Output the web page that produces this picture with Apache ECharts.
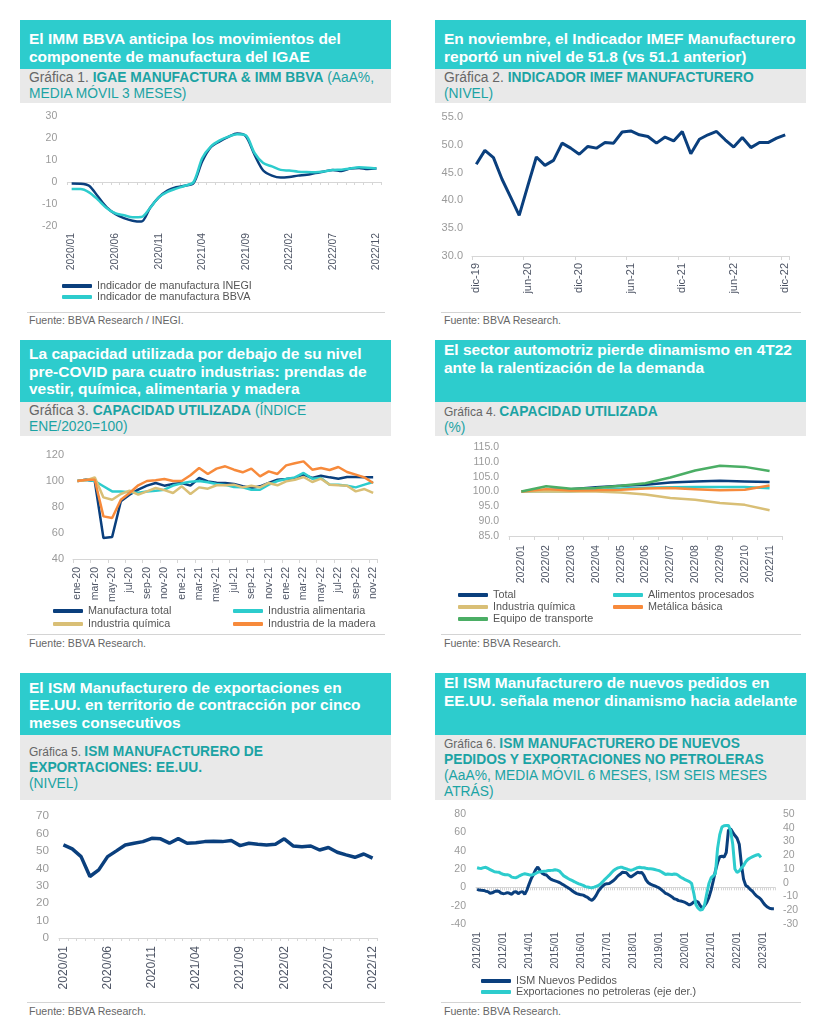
<!DOCTYPE html>
<html><head><meta charset="utf-8">
<script src="https://cdn.jsdelivr.net/npm/echarts@6/dist/echarts.min.js"></script>
<style>
html,body{margin:0;padding:0;background:#fff;}
body{width:838px;height:1024px;position:relative;overflow:hidden;font-family:"Liberation Sans",Arial,sans-serif;}
#chart{position:absolute;left:0;top:0;width:838px;height:1024px;}
.box{position:absolute;}
.hb{background:#2dcccd;}
.gb{background:#e9e9e9;}
.ht{position:absolute;color:#fff;font-weight:bold;font-size:15.5px;line-height:17.7px;white-space:nowrap;}
.st{position:absolute;color:#1ba3a4;font-size:13.8px;line-height:16px;white-space:nowrap;}
.st .g{color:#666;}
.st .gs{color:#666;font-size:12px;}
.sep{position:absolute;height:0;border-top:1.5px solid #d4d4d4;}
.src{position:absolute;font-size:10.6px;line-height:13px;color:#666;white-space:nowrap;}
</style>
</head><body>
<div class="box hb" style="left:20px;top:20px;width:371px;height:49px"></div>
<div class="box gb" style="left:20px;top:69px;width:371px;height:34px"></div>
<div class="box hb" style="left:435px;top:20px;width:371px;height:49px"></div>
<div class="box gb" style="left:435px;top:69px;width:371px;height:34px"></div>
<div class="box hb" style="left:20px;top:340px;width:371px;height:62px"></div>
<div class="box gb" style="left:20px;top:402px;width:371px;height:34px"></div>
<div class="box hb" style="left:435px;top:340px;width:371px;height:62px"></div>
<div class="box gb" style="left:435px;top:402px;width:371px;height:34px"></div>
<div class="box hb" style="left:20px;top:673px;width:371px;height:62px"></div>
<div class="box gb" style="left:20px;top:735px;width:371px;height:65px"></div>
<div class="box hb" style="left:435px;top:673px;width:371px;height:62px"></div>
<div class="box gb" style="left:435px;top:735px;width:371px;height:65px"></div>

<div class="ht" style="left:29px;top:30px">El IMM BBVA anticipa los movimientos del<br>componente de manufactura del IGAE</div>
<div class="st" style="left:29px;top:70px"><span class="g">Gráfica 1. </span><b>IGAE MANUFACTURA &amp; IMM BBVA</b> (AaA%,<br>MEDIA MÓVIL 3 MESES)</div>
<div class="ht" style="left:444px;top:30px">En noviembre, el Indicador IMEF Manufacturero<br>reportó un nivel de 51.8 (vs 51.1 anterior)</div>
<div class="st" style="left:444px;top:70px"><span class="g">Gráfica 2. </span><b>INDICADOR IMEF MANUFACTURERO</b><br>(NIVEL)</div>
<div class="ht" style="left:29px;top:345px">La capacidad utilizada por debajo de su nivel<br>pre-COVID para cuatro industrias: prendas de<br>vestir, química, alimentaria y madera</div>
<div class="st" style="left:29px;top:403px"><span class="g">Gráfica 3. </span><b>CAPACIDAD UTILIZADA</b> (ÍNDICE<br>ENE/2020=100)</div>
<div class="ht" style="left:444px;top:341px">El sector automotriz pierde dinamismo en 4T22<br>ante la ralentización de la demanda</div>
<div class="st" style="left:444px;top:404px"><span class="gs">Gráfica 4. </span><b>CAPACIDAD UTILIZADA</b><br>(%)</div>
<div class="ht" style="left:29px;top:678.5px">El ISM Manufacturero de exportaciones en<br>EE.UU. en territorio de contracción por cinco<br>meses consecutivos</div>
<div class="st" style="left:29px;top:743.7px"><span class="gs">Gráfica 5. </span><b>ISM MANUFACTURERO DE<br>EXPORTACIONES: EE.UU.</b><br>(NIVEL)</div>
<div class="ht" style="left:444px;top:674px">El ISM Manufacturero de nuevos pedidos en<br>EE.UU. señala menor dinamismo hacia adelante</div>
<div class="st" style="left:444px;top:736px"><span class="gs">Gráfica 6. </span><b>ISM MANUFACTURERO DE NUEVOS<br>PEDIDOS Y EXPORTACIONES NO PETROLERAS</b><br>(AaA%, MEDIA MÓVIL 6 MESES, ISM SEIS MESES<br>ATRÁS)</div>

<div class="sep" style="left:27px;top:312px;width:358px"></div>
<div class="sep" style="left:441px;top:312px;width:360px"></div>
<div class="sep" style="left:27px;top:634px;width:358px"></div>
<div class="sep" style="left:441px;top:634px;width:360px"></div>
<div class="sep" style="left:27px;top:1002px;width:358px"></div>
<div class="sep" style="left:441px;top:1002px;width:360px"></div>
<div class="src" style="left:29px;top:313.5px">Fuente: BBVA Research / INEGI.</div>
<div class="src" style="left:444px;top:313.5px">Fuente: BBVA Research.</div>
<div class="src" style="left:29px;top:637px">Fuente: BBVA Research.</div>
<div class="src" style="left:444px;top:637px">Fuente: BBVA Research.</div>
<div class="src" style="left:29px;top:1004.5px">Fuente: BBVA Research.</div>
<div class="src" style="left:444px;top:1004.5px">Fuente: BBVA Research.</div>

<div id="chart"></div>
<script>
// ---------- DATA ----------
const MES = ['ene','feb','mar','abr','may','jun','jul','ago','sep','oct','nov','dic'];
function months(y, m, n, style) {
  const out = [];
  for (let k = 0; k < n; k++) {
    const t = y * 12 + (m - 1) + k;
    const yy = Math.floor(t / 12), mm = t % 12;
    out.push(style === 'es' ? MES[mm] + '-' + String(yy % 100).padStart(2, '0')
                            : yy + '/' + String(mm + 1).padStart(2, '0'));
  }
  return out;
}

// Gráfica 1
const p1Categories = months(2020, 1, 36, 'num');
const p1Inegi = [-0.7,-0.8,-1.7,-6.5,-11.4,-14.5,-16.4,-17.6,-18.0,-11.8,-7.0,-3.9,-2.4,-1.7,-0.5,9.4,15.9,18.5,20.5,22.0,20.8,12.4,5.2,2.9,2.0,2.3,2.9,3.3,4.1,4.8,5.5,5.0,6.1,6.4,5.9,6.1];
const p1Bbva  = [-3.2,-3.2,-4.7,-8.0,-11.8,-14.2,-15.1,-16.0,-15.9,-11.8,-7.0,-4.5,-3.0,-1.7,0.0,10.9,16.2,18.9,20.6,21.7,21.2,13.2,8.6,7.1,5.5,5.2,4.7,4.5,4.4,4.8,5.5,5.6,6.1,6.7,6.5,6.1];

// Gráfica 2
const p2Categories = months(2019, 12, 37, 'es');
const p2Imef = [46.5,49.0,47.7,43.8,40.6,37.3,42.6,47.8,46.3,47.2,50.3,49.4,48.3,49.7,49.4,50.4,50.3,52.3,52.5,51.8,51.5,50.3,51.4,50.7,52.4,48.4,51.0,51.8,52.4,50.9,49.6,51.3,49.5,50.4,50.4,51.2,51.8];

// Gráfica 3
const p3Categories = months(2020, 1, 35, 'es');
const p3Total  = [100,101,100,56.2,57,84.4,89.5,93.3,96.4,98.5,96.4,97.7,98.5,96.4,102.3,99.7,98.7,98.5,97.7,95.9,94.6,95.9,98.5,101,101.5,102.3,104.9,102.3,104.1,102.8,101.8,103.1,103.1,102.8,102.8];
const p3Alim   = [100,101,100,96,92,92,91.3,91,92,92.5,93.3,96.5,98.2,99.5,100,99,97.7,97,95.4,95.2,93.3,93.3,97.2,100,101.5,102.8,106.2,101.8,102.3,97.2,97.2,96.4,95.1,97.2,99.2];
const p3Quim   = [100,100.5,102.8,87.4,85.6,90,92.6,89.5,92,94.6,93,90.8,95.9,90,95.1,94.1,96.7,96.7,97.2,95.1,96.4,95.1,98.5,96.7,99.7,101,103.1,99.2,101.8,97.2,96.7,96.4,92,93.8,90.8];
const p3Madera = [100,101,101,72.8,71.5,85.6,90.8,96.7,100,100.5,101.5,100,100,104.4,110,105.4,109.5,111.3,108.7,106.7,109.5,103.6,107.4,105.4,112,113.6,115.1,108.7,110,108.5,110.8,106.9,104.9,102.8,98.5];

// Gráfica 4
const p4Categories = months(2022, 1, 11, 'num');
const p4Total   = [100,100.5,100.8,101.4,101.9,102.3,103,103.4,103.6,103.4,103.2];
const p4Alim    = [100,100.1,100.1,100.5,101,101.3,101.4,101.5,101.5,101.5,101.1];
const p4Quim    = [100,100.1,100,100,99.7,99,97.8,97.2,96.1,95.5,93.7];
const p4Metal   = [100,100.8,100.3,100.4,100.6,101,101.2,100.8,100.4,100.6,102];
const p4Equipo  = [100,101.8,100.9,101.2,101.9,102.8,104.7,107.1,108.7,108.3,106.9];

// Gráfica 5
const p5Categories = months(2020, 1, 36, 'num');
const p5Ism = [53.4,51.1,46.7,35.3,39.1,46.7,50.0,53.4,54.4,55.3,57.2,56.9,54.4,57.0,54.4,54.7,55.3,55.5,55.3,55.9,53.0,54.4,53.8,53.4,53.8,56.9,52.8,52.4,52.8,50.5,51.9,49.2,47.7,46.3,48.2,45.8];

// Gráfica 6
const p6Categories = months(2012, 1, 138, 'num');
const p6TickLabels = ['2012/01','2012/01','2014/01','2015/01','2016/01','2017/01','2018/01','2019/01','2020/01','2021/01','2022/01','2023/01'];
const p6Pedidos = [
 -2.2,-3.0,-3.3,-3.4,-4.2,-4.7,-6.5,-6.0,-4.7,-4.0,-4.3,-6.2,-6.9,-6.6,-5.8,-6.5,-7.6,-5.0,-4.7,-6.9,-5.2,-4.7,-7.6,-3.0,
 3.5,9.5,14.0,19.0,22.2,18.5,15.5,14.0,13.4,11.0,9.0,7.8,7.0,6.2,5.3,3.8,2.5,1.0,-0.5,-2.0,-4.0,-5.5,-6.8,-7.5,
 -8.2,-8.5,-9.8,-11.0,-13.0,-14.2,-12.0,-8.5,-4.0,-1.0,1.5,3.3,4.0,4.2,5.8,7.5,9.8,12.5,14.2,16.4,16.2,15.8,13.0,11.3,
 13.0,14.5,16.4,16.0,16.2,13.0,8.0,5.0,3.5,2.5,1.5,0.4,-0.5,-2.5,-4.5,-6.5,-7.5,-9.0,-10.5,-12.5,-13.1,-14.5,-14.9,-15.6,
 -16.5,-17.8,-19.3,-18.0,-16.0,-14.9,-16.0,-20.0,-22.9,-20.0,-16.5,-11.0,-3.0,6.9,18.0,27.0,33.5,34.0,33.0,38.0,62.0,64.0,60.0,56.5,
 53.5,47.0,25.0,8.7,2.0,0.5,-2.2,-4.0,-6.9,-9.5,-11.0,-13.1,-16.5,-19.5,-21.5,-22.9,-23.3,-23.3];
const p6Export = [
 10.9,10.5,10.4,11.0,11.2,10.4,9.6,8.8,8.0,7.8,7.7,6.8,
 6.2,5.8,5.9,5.4,4.1,3.8,3.7,4.5,5.4,6.1,6.5,6.2,
 5.8,5.5,6.0,6.7,7.6,7.9,8.2,8.4,8.6,9.0,9.0,9.1,
 9.5,9.2,8.5,6.7,5.0,4.1,3.1,2.2,1.5,0.7,-0.1,-0.8,
 -1.3,-1.9,-2.8,-3.1,-3.4,-3.6,-3.2,-2.6,-2.0,-0.8,0.8,2.5,
 4.0,5.5,7.2,8.9,10.0,10.8,11.2,11.2,10.5,10.1,9.4,9.0,
 9.5,10.2,11.0,11.3,10.9,10.9,10.5,10.2,10.2,10.0,9.6,9.2,
 8.8,8.0,7.0,6.0,6.4,6.2,6.0,6.4,6.2,5.2,4.0,3.2,
 2.2,1.5,0.8,-0.5,-7.5,-16.0,-18.5,-19.8,-19.5,-16.0,-8.0,-0.5,
 3.5,5.0,6.8,25.0,35.0,40.5,41.5,41.7,41.7,38.0,28.0,10.0,
 7.5,8.5,10.8,12.5,15.3,17.0,18.0,18.8,19.6,20.2,20.5,18.5];

// ---------- STYLE ----------
const FONT = '"Liberation Sans", Arial, sans-serif';
const NAVY = '#0a3f7d', CYAN = '#2dcccd', TAN = '#d9bf76', ORANGE = '#f78a3b', GREEN = '#4bae65';
const XLC = '#4f5666', YLC = '#9a9a9a', LINEC = '#d6d6d6';

const chart = echarts.init(document.getElementById('chart'), null, {renderer: 'canvas'});

function grid(left, top, width, height) {
  return {left, top, width, height, containLabel: false, outerBoundsMode: 'none', show: false};
}
function catAxis(gi, data, o) {
  return {
    type: 'category', gridIndex: gi, data, boundaryGap: true, position: 'bottom',
    axisLine: {show: o.line !== false, onZero: !!o.onZero, lineStyle: {color: LINEC, width: 1}},
    axisTick: {show: o.tick !== false, interval: o.tickInt || 0, length: o.tickLen || 4, lineStyle: {color: LINEC}},
    axisLabel: o.label === false ? {show: false} : {
      show: true, rotate: 90, interval: o.labInt || 0, fontSize: o.fs || 10.5, color: XLC,
      margin: o.margin || 7, fontFamily: FONT, formatter: o.fmt
    },
    splitLine: {show: false}
  };
}
function valAxis(gi, min, max, interval, o) {
  o = o || {};
  return {
    type: 'value', gridIndex: gi, min, max, interval, position: o.pos || 'left',
    splitLine: {show: false}, axisLine: {show: false}, axisTick: {show: false},
    axisLabel: {fontSize: o.fs || 10.5, color: YLC, margin: o.margin || 9, fontFamily: FONT, formatter: o.fmt}
  };
}
function line(name, data, color, xi, yi, width, smooth) {
  return {name, type: 'line', data, xAxisIndex: xi, yAxisIndex: yi, color,
    lineStyle: {color, width: width || 2.5}, symbol: 'none', smooth: smooth || false,
    connectNulls: false, z: 3};
}
function leg(name, left, top) {
  return {data: [name], left, top, orient: 'horizontal', icon: 'roundRect', itemWidth: 30, itemHeight: 4,
    padding: 0, itemGap: 0, selectedMode: false,
    textStyle: {fontSize: 10.8, color: '#555', fontFamily: FONT}};
}
const fix1 = v => v.toFixed(1);

const option = {
  animation: false,
  textStyle: {fontFamily: FONT},
  grid: [
    grid(67.3, 116, 313.5, 110),
    grid(472, 117, 317.5, 139),
    grid(73, 455, 304.5, 104),
    grid(509, 447, 273, 89),
    grid(59, 816, 318, 122),
    grid(476, 814, 299, 110)
  ],
  xAxis: [
    catAxis(0, p1Categories, {onZero: true, label: false, tickLen: 3}),                 // 0
    catAxis(0, p1Categories, {line: false, tick: false, labInt: 4, margin: 7, fs: 10.3}),// 1
    catAxis(1, p2Categories, {tickInt: 5, labInt: 5, margin: 7, fs: 11}),               // 2
    catAxis(2, p3Categories, {tickInt: 1, labInt: 1, margin: 8, fs: 10.5}),             // 3
    catAxis(3, p4Categories, {tickInt: 0, labInt: 0, margin: 9, fs: 10.6}),             // 4
    catAxis(4, p5Categories, {tickInt: 0, labInt: 4, margin: 8, fs: 12, tickLen: 3}),   // 5
    catAxis(5, p6Categories, {onZero: true, label: false, tickLen: 3}),                 // 6
    catAxis(5, p6Categories, {line: false, tick: false, labInt: 11, margin: 8, fs: 10.2,
      fmt: (v, i) => p6TickLabels[Math.round(i / 12)]})                                  // 7
  ],
  yAxis: [
    valAxis(0, -20, 30, 10, {margin: 10}),
    valAxis(1, 30, 55, 5, {fmt: fix1, margin: 9, fs: 11}),
    valAxis(2, 40, 120, 20, {margin: 9, fs: 11}),
    valAxis(3, 85, 115, 5, {fmt: fix1, margin: 10}),
    valAxis(4, 0, 70, 10, {margin: 10, fs: 11.7}),
    valAxis(5, -40, 80, 20, {margin: 10}),
    valAxis(5, -30, 50, 10, {pos: 'right', margin: 8})
  ],
  legend: [
    leg('Indicador de manufactura INEGI', 62, 280.5),
    leg('Indicador de manufactura BBVA', 62, 291.5),
    leg('Manufactura total', 53, 605.5),
    leg('Industria alimentaria', 233, 605.5),
    leg('Industria química', 53, 618.5),
    leg('Industria de la madera', 233, 618.5),
    leg('Total', 458, 589.5),
    leg('Alimentos procesados', 613, 589.5),
    leg('Industria química', 458, 601.5),
    leg('Metálica básica', 613, 601.5),
    leg('Equipo de transporte', 458, 613.5),
    leg('ISM Nuevos Pedidos', 481, 975.5),
    leg('Exportaciones no petroleras (eje der.)', 481, 986.5)
  ],
  series: [
    line('Indicador de manufactura INEGI', p1Inegi, NAVY, 0, 0, 2.5, 0.3),
    line('Indicador de manufactura BBVA', p1Bbva, CYAN, 0, 0, 2.5, 0.3),
    line('IMEF', p2Imef, NAVY, 2, 1, 3),
    line('Manufactura total', p3Total, NAVY, 3, 2, 2.5),
    line('Industria alimentaria', p3Alim, CYAN, 3, 2, 2.5),
    line('Industria química', p3Quim, TAN, 3, 2, 2.5),
    line('Industria de la madera', p3Madera, ORANGE, 3, 2, 2.5),
    line('Total', p4Total, NAVY, 4, 3, 2.5),
    line('Alimentos procesados', p4Alim, CYAN, 4, 3, 2.5),
    line('Industria química', p4Quim, TAN, 4, 3, 2.5),
    line('Metálica básica', p4Metal, ORANGE, 4, 3, 2.5),
    line('Equipo de transporte', p4Equipo, GREEN, 4, 3, 2.5),
    line('ISM Exportaciones', p5Ism, NAVY, 5, 4, 3.5),
    line('ISM Nuevos Pedidos', p6Pedidos, NAVY, 6, 5, 3),
    line('Exportaciones no petroleras (eje der.)', p6Export, CYAN, 6, 6, 3)
  ]
};
chart.setOption(option);
</script>
</body></html>
